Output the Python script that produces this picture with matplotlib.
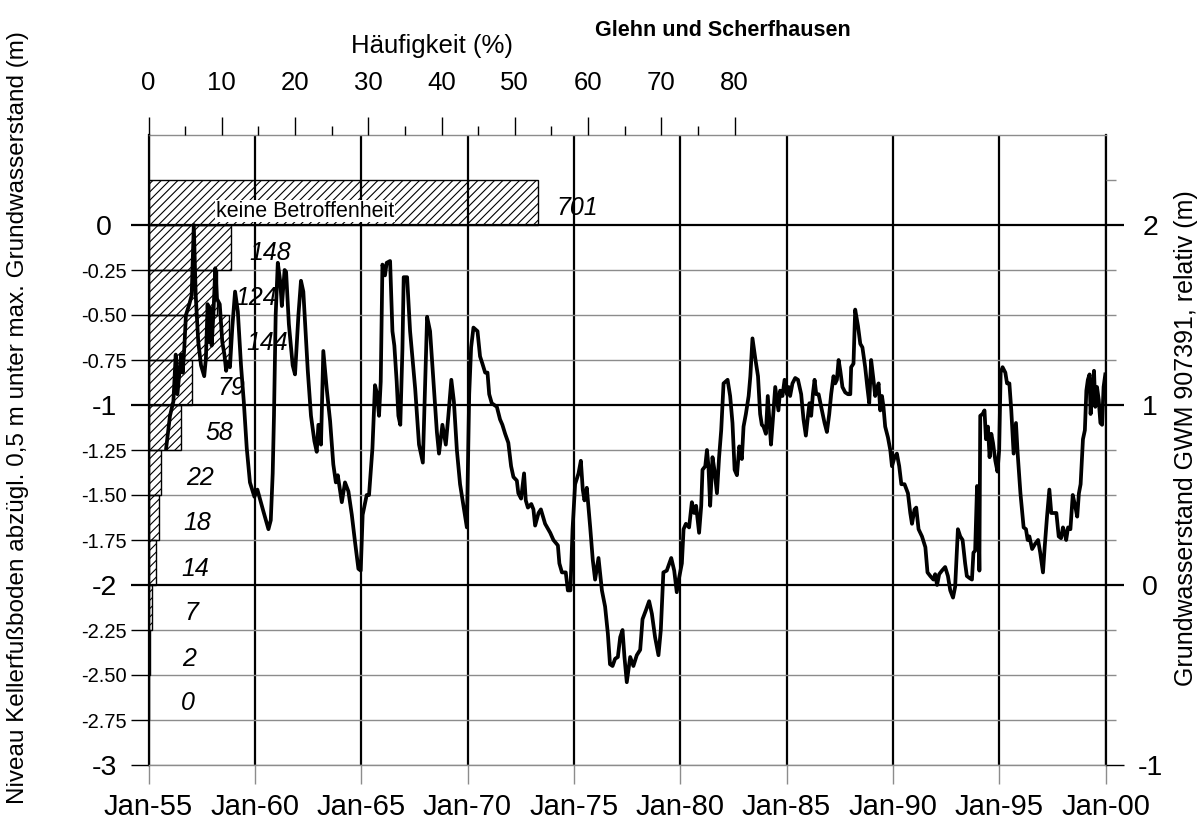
import matplotlib
matplotlib.use("Agg")
import matplotlib.pyplot as plt

plt.rcParams['font.family'] = ['Liberation Sans', 'DejaVu Sans']
plt.rcParams['axes.unicode_minus'] = False
plt.rcParams['hatch.linewidth'] = 0.8

# ---------------- data ----------------
gw_year = [
    1955.83, 1956.01, 1956.17, 1956.28, 1956.36, 1956.45, 1956.53, 1956.61, 1956.68, 1956.76,
    1956.92, 1957.03, 1957.13, 1957.22, 1957.34, 1957.47, 1957.62, 1957.70, 1957.78, 1957.85,
    1957.91, 1957.97, 1958.05, 1958.14, 1958.22, 1958.35, 1958.47, 1958.57, 1958.65, 1958.72,
    1958.83, 1958.94, 1959.07, 1959.20, 1959.35, 1959.48, 1959.62, 1959.77, 1959.98, 1960.12,
    1960.40, 1960.64, 1960.75, 1960.84, 1960.90, 1960.98, 1961.08, 1961.19, 1961.27, 1961.40,
    1961.47, 1961.60, 1961.78, 1961.89, 1962.05, 1962.17, 1962.28, 1962.49, 1962.64, 1962.80,
    1962.91, 1962.99, 1963.11, 1963.22, 1963.38, 1963.54, 1963.69, 1963.81, 1963.90, 1964.09,
    1964.24, 1964.40, 1964.56, 1964.71, 1964.87, 1964.98, 1965.07, 1965.26, 1965.37, 1965.53,
    1965.65, 1965.75, 1965.84, 1965.92, 1966.00, 1966.12, 1966.20, 1966.36, 1966.47, 1966.56,
    1966.67, 1966.75, 1966.84, 1966.94, 1967.00, 1967.16, 1967.30, 1967.54, 1967.72, 1967.90,
    1968.01, 1968.10, 1968.24, 1968.40, 1968.56, 1968.66, 1968.82, 1968.98, 1969.10, 1969.24,
    1969.36, 1969.50, 1969.65, 1969.81, 1969.97, 1970.08, 1970.17, 1970.28, 1970.47, 1970.59,
    1970.70, 1970.83, 1970.94, 1971.02, 1971.14, 1971.38, 1971.53, 1971.64, 1971.77, 1971.92,
    1972.05, 1972.16, 1972.32, 1972.39, 1972.52, 1972.60, 1972.66, 1972.74, 1972.84, 1973.00,
    1973.10, 1973.18, 1973.34, 1973.45, 1973.65, 1973.89, 1974.04, 1974.25, 1974.32, 1974.44,
    1974.62, 1974.72, 1974.84, 1974.94, 1975.06, 1975.22, 1975.33, 1975.42, 1975.50, 1975.61,
    1975.77, 1975.89, 1976.00, 1976.16, 1976.32, 1976.47, 1976.60, 1976.70, 1976.82, 1976.94,
    1977.07, 1977.18, 1977.29, 1977.38, 1977.49, 1977.65, 1977.80, 1977.96, 1978.12, 1978.23,
    1978.39, 1978.54, 1978.67, 1978.82, 1978.98, 1979.09, 1979.21, 1979.37, 1979.58, 1979.72,
    1979.84, 1979.95, 1980.08, 1980.16, 1980.27, 1980.42, 1980.55, 1980.66, 1980.75, 1980.89,
    1980.99, 1981.05, 1981.18, 1981.26, 1981.33, 1981.41, 1981.52, 1981.61, 1981.73, 1981.83,
    1981.93, 1982.04, 1982.23, 1982.35, 1982.46, 1982.56, 1982.67, 1982.78, 1982.90, 1982.98,
    1983.09, 1983.22, 1983.30, 1983.40, 1983.53, 1983.66, 1983.76, 1983.84, 1983.92, 1984.03,
    1984.12, 1984.19, 1984.27, 1984.36, 1984.47, 1984.55, 1984.62, 1984.70, 1984.81, 1984.91,
    1985.02, 1985.10, 1985.17, 1985.28, 1985.41, 1985.54, 1985.69, 1985.80, 1985.91, 1986.01,
    1986.08, 1986.16, 1986.24, 1986.32, 1986.40, 1986.51, 1986.63, 1986.79, 1986.90, 1987.01,
    1987.10, 1987.21, 1987.29, 1987.37, 1987.45, 1987.53, 1987.63, 1987.76, 1987.89, 1988.00,
    1988.04, 1988.15, 1988.23, 1988.36, 1988.47, 1988.57, 1988.70, 1988.80, 1988.89, 1988.98,
    1989.09, 1989.17, 1989.25, 1989.33, 1989.41, 1989.49, 1989.56, 1989.64, 1989.77, 1989.88,
    1989.96, 1990.08, 1990.19, 1990.30, 1990.40, 1990.55, 1990.71, 1990.82, 1990.90, 1991.02,
    1991.10, 1991.21, 1991.37, 1991.53, 1991.63, 1991.76, 1991.91, 1991.99, 1992.08, 1992.18,
    1992.31, 1992.46, 1992.59, 1992.70, 1992.83, 1992.93, 1993.06, 1993.17, 1993.28, 1993.40,
    1993.48, 1993.59, 1993.72, 1993.79, 1993.87, 1993.96, 1994.03, 1994.07, 1994.11, 1994.22,
    1994.31, 1994.38, 1994.47, 1994.55, 1994.63, 1994.71, 1994.82, 1994.92, 1995.00, 1995.07,
    1995.16, 1995.29, 1995.37, 1995.48, 1995.57, 1995.68, 1995.79, 1995.87, 1996.00, 1996.15,
    1996.26, 1996.34, 1996.42, 1996.55, 1996.70, 1996.83, 1996.93, 1997.06, 1997.14, 1997.25,
    1997.36, 1997.45, 1997.56, 1997.69, 1997.80, 1997.91, 1998.00, 1998.08, 1998.15, 1998.24,
    1998.35, 1998.46, 1998.59, 1998.67, 1998.75, 1998.83, 1998.94, 1999.03, 1999.10, 1999.17,
    1999.25, 1999.30, 1999.37, 1999.46, 1999.52, 1999.60, 1999.68, 1999.76, 1999.84, 1999.91,
    1999.99,
]
gw_level = [
    0.76, 0.94, 1.02, 1.28, 1.06, 1.18, 1.28, 1.18, 1.31, 1.50,
    1.56, 1.61, 2.00, 1.61, 1.35, 1.22, 1.16, 1.26, 1.56, 1.35,
    1.54, 1.33, 1.50, 1.76, 1.59, 1.56, 1.35, 1.28, 1.19, 1.24,
    1.21, 1.43, 1.63, 1.52, 1.22, 1.02, 0.76, 0.57, 0.49, 0.53,
    0.41, 0.31, 0.36, 0.62, 0.94, 1.50, 1.79, 1.69, 1.55, 1.75,
    1.74, 1.45, 1.22, 1.17, 1.50, 1.69, 1.63, 1.19, 0.94, 0.80,
    0.74, 0.89, 0.78, 1.30, 1.09, 0.91, 0.67, 0.57, 0.61, 0.46,
    0.57, 0.52, 0.39, 0.24, 0.09, 0.08, 0.39, 0.50, 0.50, 0.76,
    1.11, 1.06, 0.94, 1.13, 1.78, 1.72, 1.79, 1.80, 1.41, 1.33,
    1.13, 0.94, 0.89, 1.31, 1.71, 1.71, 1.41, 1.09, 0.78, 0.68,
    1.13, 1.49, 1.41, 1.13, 0.85, 0.73, 0.89, 0.78, 0.94, 1.14,
    1.02, 0.75, 0.56, 0.44, 0.32, 1.06, 1.32, 1.43, 1.41, 1.27,
    1.23, 1.18, 1.18, 1.06, 1.01, 0.99, 0.92, 0.89, 0.84, 0.79,
    0.66, 0.60, 0.58, 0.51, 0.48, 0.56, 0.62, 0.47, 0.43, 0.45,
    0.42, 0.33, 0.40, 0.42, 0.34, 0.29, 0.25, 0.22, 0.12, 0.07,
    0.07, -0.03, -0.03, 0.31, 0.56, 0.62, 0.69, 0.53, 0.47, 0.54,
    0.32, 0.14, 0.03, 0.15, -0.03, -0.12, -0.27, -0.44, -0.45, -0.41,
    -0.40, -0.29, -0.25, -0.40, -0.54, -0.40, -0.45, -0.39, -0.36, -0.19,
    -0.14, -0.09, -0.16, -0.29, -0.39, -0.25, 0.07, 0.08, 0.15, 0.08,
    -0.04, 0.04, 0.12, 0.31, 0.34, 0.32, 0.46, 0.40, 0.44, 0.29,
    0.44, 0.64, 0.66, 0.75, 0.66, 0.44, 0.71, 0.64, 0.51, 0.71,
    0.86, 1.12, 1.14, 1.05, 0.90, 0.64, 0.61, 0.77, 0.70, 0.88,
    0.95, 1.05, 1.16, 1.37, 1.26, 1.16, 0.95, 0.89, 0.88, 0.84,
    1.05, 0.92, 0.78, 0.92, 1.10, 1.03, 0.97, 1.08, 1.05, 1.14,
    1.06, 1.10, 1.05, 1.12, 1.15, 1.14, 1.06, 0.92, 0.83, 0.94,
    1.01, 0.94, 1.06, 1.14, 1.06, 1.06, 0.99, 0.90, 0.85, 0.95,
    1.06, 1.16, 1.12, 1.14, 1.25, 1.19, 1.10, 1.07, 1.06, 1.06,
    1.21, 1.23, 1.53, 1.44, 1.34, 1.32, 1.21, 1.10, 1.01, 1.25,
    1.14, 1.05, 1.08, 1.12, 0.97, 1.05, 0.99, 0.88, 0.82, 0.75,
    0.66, 0.71, 0.73, 0.66, 0.56, 0.56, 0.51, 0.40, 0.34, 0.42,
    0.43, 0.31, 0.27, 0.21, 0.07, 0.05, 0.03, 0.06, 0.00, 0.06,
    0.08, 0.10, 0.05, -0.03, -0.07, -0.01, 0.31, 0.27, 0.25, 0.12,
    0.05, 0.04, 0.03, 0.18, 0.19, 0.55, 0.40, 0.08, 0.94, 0.95,
    0.97, 0.81, 0.88, 0.71, 0.84, 0.79, 0.69, 0.63, 0.75, 1.18,
    1.21, 1.18, 1.12, 1.12, 0.97, 0.73, 0.90, 0.73, 0.51, 0.32,
    0.31, 0.25, 0.27, 0.20, 0.23, 0.25, 0.18, 0.07, 0.21, 0.38,
    0.53, 0.40, 0.40, 0.40, 0.27, 0.26, 0.32, 0.29, 0.25, 0.32,
    0.31, 0.50, 0.43, 0.38, 0.51, 0.56, 0.81, 0.86, 1.08, 1.14,
    1.17, 0.95, 1.06, 1.19, 0.99, 1.10, 1.03, 0.90, 0.89, 1.10,
    1.17,
]

# histogram of basement floor levels (class lower edges, 0.25 m classes)
class_lower = [0.0, -0.25, -0.5, -0.75, -1.0, -1.25, -1.5, -1.75, -2.0, -2.25, -2.5, -2.75]
class_count = [701, 148, 124, 144, 79, 58, 22, 18, 14, 7, 2, 0]
none_label = "keine Betroffenheit"

left_ticks = [0, -0.25, -0.5, -0.75, -1, -1.25, -1.5, -1.75, -2, -2.25, -2.5, -2.75, -3]
left_labels = ["0", "-0.25", "-0.50", "-0.75", "-1", "-1.25", "-1.50", "-1.75",
               "-2", "-2.25", "-2.50", "-2.75", "-3"]
right_ticks = [2, 1, 0, -1]
right_labels = ["2", "1", "0", "-1"]
right_minor = [2.25, 1.75, 1.5, 1.25, 0.75, 0.5, 0.25, -0.25, -0.5, -0.75]
year_ticks = [1955, 1960, 1965, 1970, 1975, 1980, 1985, 1990, 1995, 2000]
year_labels = ["Jan-55", "Jan-60", "Jan-65", "Jan-70", "Jan-75", "Jan-80",
               "Jan-85", "Jan-90", "Jan-95", "Jan-00"]
pct_ticks = [0, 10, 20, 30, 40, 50, 60, 70, 80]
pct_labels = ["0", "10", "20", "30", "40", "50", "60", "70", "80"]
pct_minor = [5, 15, 25, 35, 45, 55, 65, 75]

title = "Glehn und Scherfhausen"
top_label = "Häufigkeit (%)"
left_ylabel = "Niveau Kellerfußboden abzügl. 0,5 m unter max. Grundwasserstand (m)"
right_ylabel = "Grundwasserstand GWM 907391, relativ (m)"

# ---------------- layout ----------------
DPI = 100
W, H = 1198, 832
def pt(px):
    return px * 72.0 / DPI

L, R, T, B = 148.5, 1105.5, 135, 765
GRAY = "#8c8c8c"
BIG = 20.5

fig = plt.figure(figsize=(W / DPI, H / DPI), dpi=DPI, facecolor="white")
ax = fig.add_axes([L / W, 1 - B / H, (R - L) / W, (B - T) / H])
ax.set_xlim(1955, 2000)
ax.set_ylim(-3, 0.5)

# left axis ticks / horizontal grid
ax.set_yticks(left_ticks, left_labels)
ax.yaxis.grid(True)
ax.tick_params(axis="y", which="major", length=pt(18.5), width=1, pad=pt(26))
for tk in ax.yaxis.get_major_ticks():
    v = tk.get_loc()
    is_int = abs(v - round(v)) < 1e-9 and v > -2.5
    tk.gridline.set_color("black" if is_int else GRAY)
    tk.gridline.set_linewidth(1.6 if is_int else 1.0)
    tk.tick1line.set_color("black" if is_int else GRAY)
    tk.tick1line.set_markeredgewidth(1.6 if is_int else 1.0)
    tk.label1.set_fontsize(BIG if abs(v - round(v)) < 1e-9 else 14.5)
    tk.label1.set_horizontalalignment("center")

# bottom axis
ax.set_xticks(year_ticks, year_labels)
ax.xaxis.grid(True, color="black", linewidth=1.6)
ax.tick_params(axis="x", which="major", length=pt(19), width=1, color=GRAY,
               pad=pt(9), labelsize=21)
for side in ("top", "bottom"):
    ax.spines[side].set_color(GRAY)
    ax.spines[side].set_linewidth(1.0)
for side in ("left", "right"):
    ax.spines[side].set_color("black")
    ax.spines[side].set_linewidth(1.6)

# ---------------- histogram (top axis) ----------------
total = sum(class_count)
pct = [c / total * 100.0 for c in class_count]
axt = ax.twiny()
axt.set_xlim(0, (R - L) / 7.325)
axt.barh(class_lower, pct, height=0.25, align="edge", facecolor="none",
         edgecolor="black", hatch="////", linewidth=1.0, zorder=2)
for lo, p, c in zip(class_lower, pct, class_count):
    axt.annotate(str(c), xy=(p, lo + 0.125), xytext=(pt(39), -pt(13)),
                 textcoords="offset points", ha="center", va="baseline",
                 fontsize=18, style="italic", zorder=5)
axt.text((216 - L) / 7.325, 0.046, none_label, ha="left", va="baseline",
         fontsize=15.5, zorder=6,
         bbox=dict(facecolor="white", edgecolor="none", pad=0.5))
axt.set_xticks(pct_ticks, pct_labels)
axt.set_xticks(pct_minor, minor=True)
axt.tick_params(axis="x", which="major", length=pt(18), width=1, color="black",
                pad=pt(22), labelsize=18.5)
axt.tick_params(axis="x", which="minor", length=pt(9), width=1, color="black")
for s in axt.spines.values():
    s.set_visible(False)

# ---------------- groundwater line (right axis) ----------------
axr = ax.twinx()
axr.set_ylim(-1, 2.5)
axr.plot(gw_year, gw_level, color="black", linewidth=2.7, zorder=4,
         solid_joinstyle="round")
axr.set_yticks(right_ticks, right_labels)
axr.set_yticks(right_minor, minor=True)
axr.tick_params(axis="y", which="major", length=pt(17.5), width=1.6, color="black",
                pad=pt(27), labelsize=BIG)
axr.tick_params(axis="y", which="minor", length=pt(10), width=1, color=GRAY)
for tk in axr.yaxis.get_major_ticks():
    tk.label2.set_horizontalalignment("center")
    if tk.get_loc() < -0.5:
        tk.tick2line.set_color(GRAY)
        tk.tick2line.set_markeredgewidth(1.0)
for s in axr.spines.values():
    s.set_visible(False)

# ---------------- texts ----------------
fig.text(723 / W, 1 - 30 / H, title, ha="center", va="center",
         fontsize=15.5, fontweight="bold")
fig.text(432 / W, 1 - 46 / H, top_label, ha="center", va="center", fontsize=18.5)
fig.text(18 / W, 1 - 418 / H, left_ylabel, rotation=90, ha="center", va="center",
         fontsize=17.5)
fig.text(1186 / W, 1 - 438 / H, right_ylabel, rotation=90, ha="center", va="center",
         fontsize=18)

fig.savefig("out.png", dpi=DPI, facecolor="white")
